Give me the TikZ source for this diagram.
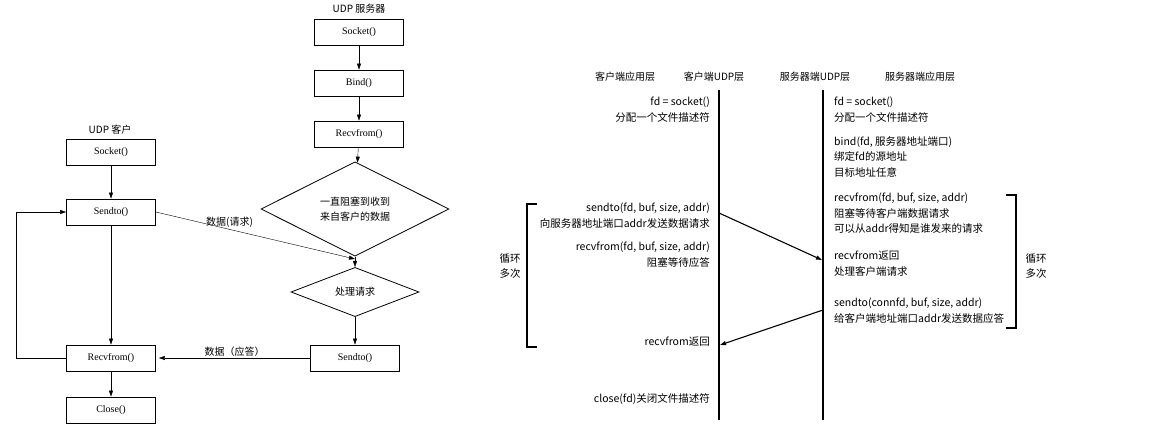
\documentclass[tikz,border=0pt]{standalone}
\usepackage{fontspec}
\setmainfont{Liberation Serif}
\newfontfamily\cjk{Noto Sans CJK SC}
\usetikzlibrary{shapes.geometric,arrows.meta}
\begin{document}
\begin{tikzpicture}[x=1pt,y=-1pt,
  box/.style={draw,thick,minimum width=89pt,minimum height=26pt,inner sep=0pt,font=\fontsize{10}{11}\selectfont},
  dia/.style={draw,thick,diamond,inner sep=0pt,font=\cjk\fontsize{10}{15}\selectfont,align=center},
  arr/.style={-{Triangle[length=6pt,width=4pt]}},
  seq/.style={font=\cjk\fontsize{10.5}{15.5}\selectfont,inner sep=0pt},
  lbl/.style={font=\cjk\fontsize{10}{11}\selectfont,inner sep=0pt}]
\useasboundingbox (0,0) rectangle (1150,441);
% left flowchart: server
\node[lbl] (st) at (359,9) {UDP 服务器};
\node[box] (ss) at (359,32) {Socket()};
\node[box] (sb) at (359,83) {Bind()};
\node[box] (sr) at (359,134) {Recvfrom()};
\node[dia,minimum width=188pt,minimum height=68pt] (d1) at (355,209) {一直阻塞到收到\\来自客户的数据};
\node[dia,minimum width=128pt,minimum height=33pt] (d2) at (355,292) {处理请求};
\node[box] (sst) at (355,358) {Sendto()};
% client
\node[lbl] (ct) at (110,130) {UDP 客户};
\node[box] (cs) at (111,152) {Socket()};
\node[box] (cst) at (111,212) {Sendto()};
\node[box] (cr) at (111,358) {Recvfrom()};
\node[box] (cc) at (111,410) {Close()};
\coordinate (m) at (355,259);
\draw[arr] (ss) -- (sb);
\draw[arr] (sb) -- (sr);
\draw[arr] (sr) -- (d1);
\draw (d1.south) -- (m);
\draw[arr] (m) -- (d2);
\draw[arr] (d2) -- (sst);
\draw[arr] (cs) -- (cst);
\draw[arr] (cst) -- (cr);
\draw[arr] (cr) -- (cc);
\draw[arr] (cr.west) -- ++(-50,0) |- (cst.west);
\draw[arr] (cst.east) -- node[lbl,pos=0.37,above=2pt] {数据(请求)} (m);
\draw[arr] (sst.west) -- node[lbl,above=1pt] {数据（应答）} ([xshift=3pt]cr.east);
% right sequence diagram
\node[lbl] (h1) at (625,77) {客户端应用层};
\node[lbl] (h2) at (714,77) {客户端UDP层};
\node[lbl] (h3) at (815,77) {服务器端UDP层};
\node[lbl] (h4) at (920,77) {服务器端应用层};
\coordinate (l1t) at (719,90); \coordinate (l1b) at (719,420);
\coordinate (l2t) at (823,90); \coordinate (l2b) at (823,420);
\draw[line width=1.3pt] (l1t) -- (l1b);
\draw[line width=1.3pt] (l2t) -- (l2b);
\node[seq,anchor=north east,align=right] (c1) at (710,97) {fd = socket()\\分配一个文件描述符};
\node[seq,anchor=north east,align=right] (c2) at (710,203) {sendto(fd, buf, size, addr)\\向服务器地址端口addr发送数据请求};
\node[seq,anchor=north east,align=right] (c3) at (710,242) {recvfrom(fd, buf, size, addr)\\阻塞等待应答};
\node[seq,anchor=north east] (c4) at (710,337) {recvfrom返回};
\node[seq,anchor=north east] (c5) at (710,393) {close(fd)关闭文件描述符};
\node[seq,anchor=north west,align=left] (s1) at (834,97) {fd = socket()\\分配一个文件描述符};
\node[seq,anchor=north west,align=left] (s2) at (834,136) {bind(fd, 服务器地址端口)\\绑定fd的源地址\\目标地址任意};
\node[seq,anchor=north west,align=left] (s3) at (834,193) {recvfrom(fd, buf, size, addr)\\阻塞等待客户端数据请求\\可以从addr得知是谁发来的请求};
\node[seq,anchor=north west,align=left] (s4) at (834,251) {recvfrom返回\\处理客户端请求};
\node[seq,anchor=north west,align=left] (s5) at (834,298) {sendto(connfd, buf, size, addr)\\给客户端地址端口addr发送数据应答};
\coordinate (a1s) at (719,213); \coordinate (a1e) at (822,260);
\coordinate (a2s) at (823,310); \coordinate (a2e) at (720,345);
\draw[arr,line width=1.1pt] (a1s) -- (a1e);
\draw[arr,line width=1.1pt] (a2s) -- (a2e);
\draw[line width=1.1pt] (537,204) -- (527,204) -- (527,347) -- (537,347);
\draw[line width=1.1pt] (1006,195) -- (1016,195) -- (1016,328) -- (1006,328);
\node[seq,align=center] (lp1) at (510,266) {循环\\多次};
\node[seq,align=center] (lp2) at (1036,266) {循环\\多次};
\end{tikzpicture}
\end{document}
